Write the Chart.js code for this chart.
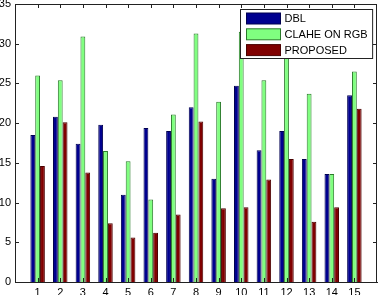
<!DOCTYPE html>
<html>
<head>
<meta charset="utf-8">
<script src="https://cdn.jsdelivr.net/npm/chart.js@4.4.0/dist/chart.umd.min.js"></script>
<style>
  html, body { margin: 0; padding: 0; background: #fff; }
  #wrap { width: 378px; height: 295px; }
</style>
</head>
<body>
<div id="wrap"><canvas id="chart" width="378" height="295"></canvas></div>
<script>
// image numbers 1..15
const categories = [1, 2, 3, 4, 5, 6, 7, 8, 9, 10, 11, 12, 13, 14, 15];

const dblValues      = [18.5, 20.8, 17.4, 19.8, 11.0, 19.4, 19.0, 22.0, 13.0, 24.7, 16.6, 19.0, 15.5, 13.6, 23.5];
const claheValues    = [26.0, 25.4, 30.9, 16.5, 15.2, 10.4, 21.1, 31.3, 22.7, 31.5, 25.4, 31.0, 23.7, 13.6, 26.5];
const proposedValues = [14.6, 20.1, 13.8, 7.4, 5.6, 6.2, 8.5, 20.2, 9.3, 9.4, 12.9, 15.5, 7.6, 9.4, 21.8];

const yTicks = [0, 5, 10, 15, 20, 25, 30, 35];

const FONT = 'Arial, "Liberation Sans", Helvetica, sans-serif';

// matlab-style box: top/right border, inward ticks, legend inside top right
const matlabBox = {
    id: 'matlabBox',
    afterDraw(chart) {
        const ctx = chart.ctx;
        const a = chart.chartArea;
        const xs = chart.scales.x;
        const ys = chart.scales.y;
        ctx.save();
        ctx.strokeStyle = '#222';
        ctx.lineWidth = 1;
        ctx.beginPath();
        ctx.moveTo(a.left, a.top + 0.5);
        ctx.lineTo(a.right, a.top + 0.5);
        ctx.moveTo(a.right - 0.5, a.top);
        ctx.lineTo(a.right - 0.5, a.bottom);
        // x ticks, bottom and top
        categories.forEach(c => {
            const px = Math.round(xs.getPixelForValue(c)) + 0.5;
            ctx.moveTo(px, a.bottom);
            ctx.lineTo(px, a.bottom - 4);
            ctx.moveTo(px, a.top);
            ctx.lineTo(px, a.top + 4);
        });
        // y ticks, left and right
        yTicks.forEach(v => {
            const py = Math.round(ys.getPixelForValue(v)) + 0.5;
            ctx.moveTo(a.left, py);
            ctx.lineTo(a.left + 4, py);
            ctx.moveTo(a.right, py);
            ctx.lineTo(a.right - 4, py);
        });
        ctx.stroke();

        // legend
        const sets = chart.data.datasets;
        ctx.font = '11px ' + FONT;
        const textW = Math.max(...sets.map(d => ctx.measureText(d.label).width));
        const boxW = 6 + 34 + 4 + textW + 5;
        const boxH = 49;
        const bx = Math.round(a.right - 5 - boxW) + 0.5;
        const by = a.top + 5.5;
        ctx.fillStyle = '#fff';
        ctx.fillRect(bx, by, boxW, boxH);
        ctx.strokeStyle = '#222';
        ctx.strokeRect(bx, by, boxW, boxH);
        sets.forEach((d, i) => {
            const ry = by + 3.5 + i * 15.8;
            ctx.fillStyle = d.backgroundColor;
            ctx.fillRect(bx + 6, ry, 34, 11);
            ctx.strokeStyle = d.borderColor;
            ctx.strokeRect(bx + 6, ry, 34, 11);
            ctx.fillStyle = '#000';
            ctx.textBaseline = 'middle';
            ctx.textAlign = 'left';
            ctx.fillText(d.label, bx + 44, ry + 6);
        });
        ctx.restore();
    }
};

new Chart(document.getElementById('chart'), {
    type: 'bar',
    data: {
        labels: categories,
        datasets: [
            {
                label: 'DBL',
                data: dblValues,
                backgroundColor: '#00008f',
                borderColor: '#000050',
                borderWidth: 1
            },
            {
                label: 'CLAHE ON RGB',
                data: claheValues,
                backgroundColor: '#80ff80',
                borderColor: '#2a7a2a',
                borderWidth: 1
            },
            {
                label: 'PROPOSED',
                data: proposedValues,
                backgroundColor: '#800000',
                borderColor: '#4a0000',
                borderWidth: 1
            }
        ]
    },
    options: {
        responsive: false,
        animation: false,
        categoryPercentage: 0.64,
        barPercentage: 1.0,
        layout: { padding: { top: 4, right: 1, left: 0, bottom: 0 } },
        plugins: {
            legend: { display: false },
            tooltip: { enabled: false }
        },
        scales: {
            x: {
                type: 'linear',
                offset: false,
                min: 0,
                max: 16,
                grid: { display: false, drawTicks: false, offset: false },
                border: { display: true, color: '#222' },
                ticks: {
                    stepSize: 1,
                    padding: 4,
                    color: '#000',
                    font: { size: 11, family: FONT },
                    maxRotation: 0
                },
                afterBuildTicks: (s) => {
                    s.ticks = s.ticks.filter(t => t.value >= 1 && t.value <= 15);
                },
                afterFit: (s) => {
                    s.height = 13;
                    s.paddingLeft = 0;
                    s.paddingRight = 0;
                }
            },
            y: {
                min: 0,
                max: 35,
                grid: { display: false, drawTicks: false },
                border: { display: true, color: '#222' },
                ticks: {
                    stepSize: 5,
                    padding: 4,
                    color: '#000',
                    font: { size: 11, family: FONT }
                },
                afterFit: (s) => {
                    s.width = 15;
                    s.paddingTop = 0;
                    s.paddingBottom = 0;
                }
            }
        }
    },
    plugins: [matlabBox]
});
</script>
</body>
</html>
